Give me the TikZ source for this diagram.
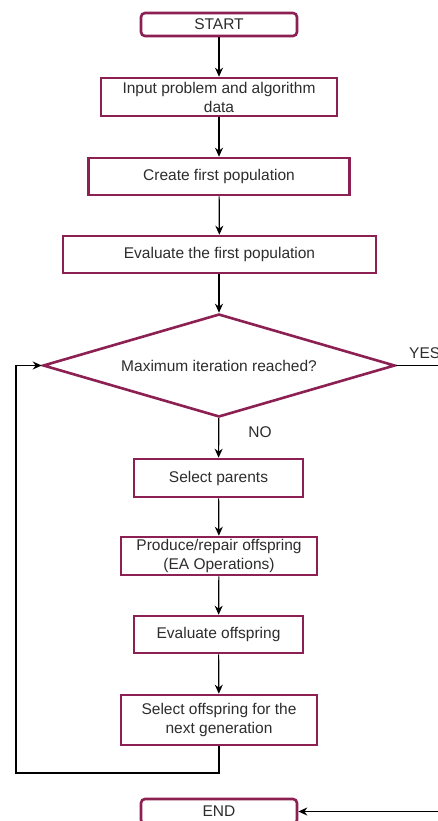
\documentclass[tikz,border=0pt]{standalone}
\usepackage{fontspec}
\setmainfont{Liberation Sans}
\usetikzlibrary{shapes.geometric,arrows.meta}
\definecolor{frame}{RGB}{140,32,82}
\definecolor{txt}{RGB}{45,45,45}
\begin{document}
\begin{tikzpicture}[x=1pt,y=-1pt,
  every node/.style={font=\fontsize{15.5}{19}\selectfont, text=txt},
  procbox/.style={draw=frame, line width=2.6pt, rectangle, align=center, inner sep=0pt, fill=white},
  termbox/.style={procbox, rounded corners=4pt},
  decbox/.style={draw=frame, line width=2.6pt, diamond, aspect=3.4, inner sep=0pt, fill=white},
  conn/.style={draw=black, line width=1.2pt, -{Stealth[length=9pt,width=8pt]}},
  lbl/.style={inner sep=0pt}
]
\useasboundingbox (0,0) rectangle (438,821);
\clip (0,0) rectangle (438,821);
\fill[white] (0,0) rectangle (438,821);

\node[termbox, minimum width=156pt, minimum height=23pt] (start) at (219,24.5) {START};
\node[procbox, minimum width=236pt, minimum height=38pt] (input) at (219,97) {Input problem and algorithm\\data};
\node[procbox, minimum width=261pt, minimum height=37pt] (create) at (219,176.5) {Create first population};
\node[procbox, minimum width=313pt, minimum height=37pt] (evalfirst) at (219.5,254.5) {Evaluate the first population};
\node[decbox, minimum width=352pt, minimum height=103pt] (maxit) at (219,365.5) {Maximum iteration reached?};
\node[procbox, minimum width=169pt, minimum height=38pt] (selpar) at (218.5,478) {Select parents};
\node[procbox, minimum width=196pt, minimum height=38pt] (produce) at (219,556) {Produce/repair offspring\\(EA Operations)};
\node[procbox, minimum width=169pt, minimum height=37pt] (evaloff) at (218.5,634.5) {Evaluate offspring};
\node[procbox, minimum width=196pt, minimum height=50pt] (seloff) at (219,720) {Select offspring for the\\next generation};
\node[termbox, minimum width=156pt, minimum height=25pt] (endn) at (219,811.5) {END};

\coordinate (loopa) at (219,773);
\coordinate (loopb) at (16,773);
\coordinate (loopc) at (16,365.5);
\coordinate (yesa) at (470,365.5);
\coordinate (yesb) at (470,811.5);

\draw[conn] (start) -- (input);
\draw[conn] (input) -- (create);
\draw[conn] (create) -- (evalfirst);
\draw[conn] (evalfirst.south -| maxit.north) -- (maxit.north);
\draw[conn] (maxit) -- (selpar);
\draw[conn] (selpar) -- (produce);
\draw[conn] (produce) -- (evaloff);
\draw[conn] (evaloff) -- (seloff);
\draw[conn] (seloff.south) -- (loopa) -- (loopb) -- (loopc) -- (maxit.west);
\draw[conn] (maxit.east) -- (yesa) -- (yesb) -- (endn.east);

\node[lbl, anchor=west] (yes) at (409,353) {YES};
\node[lbl] (no) at (260,432) {NO};
\end{tikzpicture}
\end{document}
